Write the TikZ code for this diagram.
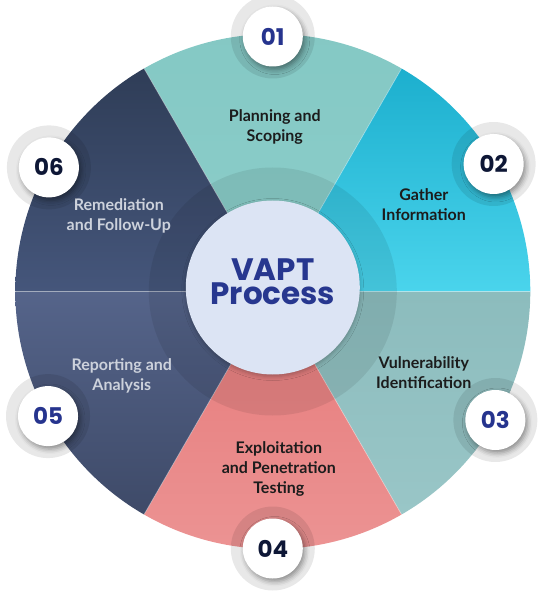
\documentclass[tikz,border=0pt]{standalone}
\usepackage{fontspec}
\setmainfont{Lato}
\newfontfamily\numfont{Poppins}
\usetikzlibrary{shadows.blur}

\definecolor{planTop}{HTML}{84C8C4}
\definecolor{planBot}{HTML}{8CCECA}
\definecolor{gatherTop}{HTML}{1CAFCE}
\definecolor{gatherBot}{HTML}{4AD4EC}
\definecolor{vulnTop}{HTML}{8CBCBD}
\definecolor{vulnBot}{HTML}{99C6C7}
\definecolor{exploitTop}{HTML}{E67A7A}
\definecolor{exploitBot}{HTML}{EC9494}
\definecolor{reportTop}{HTML}{55648A}
\definecolor{reportBot}{HTML}{3E4A68}
\definecolor{remedyTop}{HTML}{2F3D57}
\definecolor{remedyBot}{HTML}{45567B}
\definecolor{hubFill}{HTML}{DCE4F4}
\definecolor{titleBlue}{HTML}{27378F}
\definecolor{numBlue}{HTML}{26348E}
\definecolor{numDark}{HTML}{0E1736}
\definecolor{inkDark}{HTML}{1C1C1C}
\definecolor{inkLight}{HTML}{CDD2DC}

\begin{document}
\begin{tikzpicture}[x=1pt, y=1pt,
    halo/.style={circle, fill=black, fill opacity=0.09, minimum size=84pt, inner sep=0pt},
    badge/.style={circle, fill=white, minimum size=60pt, inner sep=0pt,
        font=\numfont\bfseries\fontsize{23}{23}\selectfont,
        blur shadow={shadow xshift=2pt, shadow yshift=-3pt, shadow blur radius=5pt, shadow opacity=40}},
    steptext/.style={align=center, font=\bfseries\fontsize{16}{20}\selectfont},
    hub/.style={circle, fill=hubFill, minimum size=174pt, inner sep=0pt,
        blur shadow={shadow xshift=0pt, shadow yshift=-2pt, shadow blur radius=4pt, shadow opacity=25}}]
    \useasboundingbox (-272.8,-316.5) rectangle (284.2,291.5);
    % wedges
    \foreach \a/\t/\b in {60/planTop/planBot, 0/gatherTop/gatherBot, -60/vulnTop/vulnBot,
                          240/exploitTop/exploitBot, 180/reportTop/reportBot, 120/remedyTop/remedyBot}
        \shade[top color=\t, bottom color=\b] (0,0) -- (\a:257.5)
            arc[start angle=\a, end angle=\a+60, radius=257.5] -- cycle;
    \foreach \a in {0,60,...,300}
        \draw[white, opacity=0.35, line width=0.8pt] (0,0) -- (\a:257.5);
    \fill[black, opacity=0.08] (0,0) circle[radius=124];
    % centre
    \node[hub] (hub) at (0,4) {};
    \node[align=center, text=titleBlue, font=\numfont\bfseries\fontsize{31}{24}\selectfont]
        (title) at (0,10) {VAPT\\Process};
    % step labels
    \node[steptext, text=inkDark] (plan) at (2,164.5) {Planning and\\Scoping};
    \node[steptext, text=inkDark] (gather) at (151,86.5) {Gather\\Information};
    \node[steptext, text=inkDark] (vuln) at (151,-81.5) {Vulnerability\\Identification};
    \node[steptext, text=inkDark] (exploit) at (6,-177.5) {Exploitation\\and Penetration\\Testing};
    \node[steptext, text=inkLight] (report) at (-151,-84.5) {Reporting and\\Analysis};
    \node[steptext, text=inkLight] (remedy) at (-154,75.5) {Remediation\\and Follow-Up};
    % badges
    \node[halo] (h1) at (90:255) {};
    \node[halo] (h2) at (30:255) {};
    \node[halo] (h3) at (-30:257) {};
    \node[halo] (h4) at (-90:257) {};
    \node[halo] (h5) at (209:257) {};
    \node[halo] (h6) at (151:256) {};
    \node[badge, text=numBlue] (n1) at (h1) {01};
    \node[badge, text=numDark] (n2) at (h2) {02};
    \node[badge, text=numBlue] (n3) at (h3) {03};
    \node[badge, text=numDark] (n4) at (h4) {04};
    \node[badge, text=numBlue] (n5) at (h5) {05};
    \node[badge, text=numDark] (n6) at (h6) {06};
\end{tikzpicture}
\end{document}
